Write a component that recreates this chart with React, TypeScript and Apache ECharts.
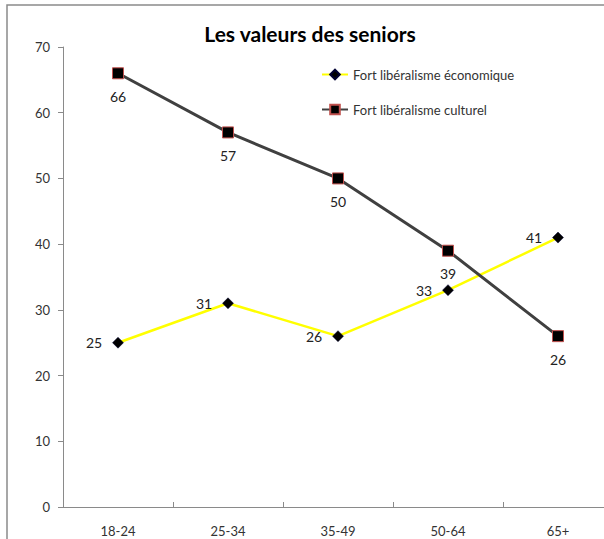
import React, { useEffect, useRef } from "react";
import * as echarts from "echarts";

const categories = ["18-24", "25-34", "35-49", "50-64", "65+"];
const economique = [25, 31, 26, 33, 41];
const culturel = [66, 57, 50, 39, 26];
const seriesNames = ["Fort libéralisme économique", "Fort libéralisme culturel"];
const titleText = "Les valeurs des seniors";

const FONT = "Lato, 'Open Sans', sans-serif";

export default function App() {
  const ref = useRef<HTMLDivElement>(null);
  useEffect(() => {
    if (!ref.current) return;
    const chart = echarts.init(ref.current, undefined, { renderer: "svg" });
    chart.setOption({
      animation: false,
      backgroundColor: "#ffffff",
      textStyle: { fontFamily: FONT },
      title: {
        text: titleText,
        left: 305,
        textAlign: "center",
        top: 18,
        textStyle: { fontFamily: FONT, fontSize: 21, fontWeight: "bold", color: "#000" },
      },
      legend: {
        orient: "vertical",
        left: 321,
        top: 68,
        padding: 0,
        itemWidth: 26,
        itemHeight: 12,
        itemGap: 22,
        textStyle: { fontFamily: FONT, fontSize: 13, color: "#333" },
        data: seriesNames,
      },
      graphic: [
        {
          type: "rect",
          shape: { x: 7, y: 5, width: 800, height: 800 },
          style: { fill: "none", stroke: "#8a8a8a", lineWidth: 1.5 },
          silent: true,
        },
      ],
      grid: { left: 63, top: 47, right: 7, bottom: 32 },
      xAxis: {
        type: "category",
        data: categories,
        boundaryGap: true,
        axisLine: { lineStyle: { color: "#8a8a8a", width: 1 } },
        axisTick: { show: true, inside: true, length: 5, lineStyle: { color: "#8a8a8a" } },
        axisLabel: { color: "#333", fontSize: 13, margin: 17, fontFamily: FONT },
        splitLine: { show: false },
      },
      yAxis: {
        type: "value",
        min: 0,
        max: 70,
        interval: 10,
        axisLine: { show: true, lineStyle: { color: "#8a8a8a", width: 1 } },
        axisTick: { show: true, inside: false, length: 5, lineStyle: { color: "#8a8a8a" } },
        axisLabel: { color: "#333", fontSize: 13, margin: 13, fontFamily: FONT },
        splitLine: { show: false },
      },
      series: [
        {
          name: seriesNames[0],
          type: "line",
          data: economique,
          symbol: "diamond",
          symbolSize: 11,
          lineStyle: { color: "#ffff00", width: 2.5 },
          itemStyle: { color: "#000000", borderColor: "#000033", borderWidth: 0.5 },
          label: {
            show: true,
            position: "left",
            distance: 10,
            color: "#222",
            fontSize: 14,
            fontFamily: FONT,
          },
          z: 2,
        },
        {
          name: seriesNames[1],
          type: "line",
          data: culturel,
          symbol: "rect",
          symbolSize: 11,
          lineStyle: { color: "#404040", width: 3 },
          itemStyle: { color: "#000000", borderColor: "#c0504d", borderWidth: 1 },
          label: {
            show: true,
            position: "bottom",
            distance: 10,
            color: "#222",
            fontSize: 14,
            fontFamily: FONT,
          },
          z: 3,
        },
      ],
    });
    return () => chart.dispose();
  }, []);
  return (
    <div
      ref={ref}
      style={{ position: "fixed", left: 0, top: 0, width: 620, height: 539 }}
    />
  );
}
